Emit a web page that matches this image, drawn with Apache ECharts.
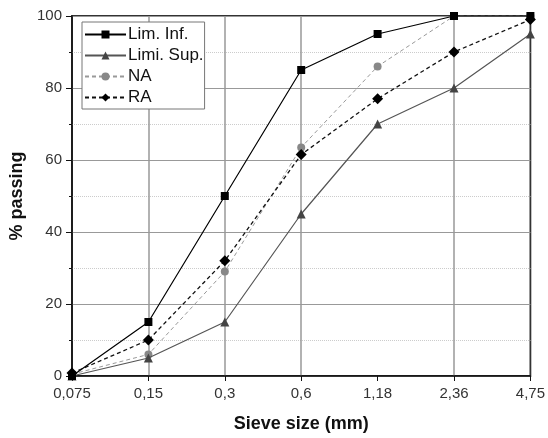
<!DOCTYPE html>
<html><head><meta charset="utf-8">
<script src="https://cdn.jsdelivr.net/npm/echarts@6/dist/echarts.min.js"></script>
<style>html,body{margin:0;padding:0;background:#fff}#c{width:548px;height:438px}</style>
</head><body><div id="c"></div>
<script>
const sieveSizes = ['0,075','0,15','0,3','0,6','1,18','2,36','4,75'];
const limInf = [0, 15, 50, 85, 95, 100, 100];
const limSup = [0, 5, 15, 45, 70, 80, 95];
const naData = [0.5, 6, 29, 63.5, 86, 100, 100];
const raData = [0.8, 10, 32, 61.5, 77, 90, 99];
const yTicks = [0, 20, 40, 60, 80, 100];

const chart = echarts.init(document.getElementById('c'), null, {renderer:'canvas'});
const font = 'Liberation Sans, Arial, sans-serif';
chart.setOption({
  animation: false,
  backgroundColor: '#fff',
  textStyle: {fontFamily: font},
  grid: {left: 72, right: 16, top: 16, bottom: 58, show: true, borderColor: '#333', borderWidth: 1.8, backgroundColor: 'transparent'},
  legend: {
    orient: 'vertical', left: 82, top: 22,
    backgroundColor: '#fff', borderColor: '#777', borderWidth: 1,
    padding: [4, 1, 3, 2], itemGap: 4, itemWidth: 41, itemHeight: 10,
    textStyle: {fontFamily: font, fontSize: 17, lineHeight: 17, color: '#111', padding: [0,0,0,-3]},
    data: ['Lim. Inf.', 'Limi. Sup.', 'NA', 'RA']
  },
  xAxis: {
    type: 'category', data: sieveSizes, boundaryGap: false,
    name: 'Sieve size (mm)', nameLocation: 'middle', nameGap: 39,
    nameTextStyle: {fontFamily: font, fontSize: 18, fontWeight: 'bold', color: '#111'},
    axisLine: {lineStyle: {color: '#111', width: 1.5}},
    axisTick: {show: true, inside: false, length: 5, lineStyle: {color: '#111'}},
    axisLabel: {fontFamily: font, fontSize: 15, color: '#333', margin: 10},
    splitLine: {show: true, interval: function(i){ return i===1||i===2||i===3||i===5; }, lineStyle: {color: '#999', width: 1.5}}
  },
  yAxis: {
    type: 'value', min: yTicks[0], max: yTicks[yTicks.length-1], interval: 20,
    name: '% passing', nameLocation: 'middle', nameGap: 33,
    nameTextStyle: {fontFamily: font, fontSize: 18, fontWeight: 'bold', color: '#111'},
    axisLine: {show: true, lineStyle: {color: '#111', width: 1.5}},
    axisTick: {show: true, length: 6, lineStyle: {color: '#111'}},
    minorTick: {show: true, splitNumber: 2, length: 3, lineStyle: {color: '#111'}},
    axisLabel: {fontFamily: font, fontSize: 15, color: '#333', margin: 10},
    splitLine: {show: true, lineStyle: {color: '#999', width: 1.2}},
    minorSplitLine: {show: true, lineStyle: {color: '#ccc', type: 'dotted', width: 1}}
  },
  series: [
    {name: 'Lim. Inf.', type: 'line', data: limInf, symbol: 'rect', symbolSize: 8,
     lineStyle: {color: '#000', width: 1.2}, itemStyle: {color: '#000'}, z: 4},
    {name: 'Limi. Sup.', type: 'line', data: limSup, symbol: 'triangle', symbolSize: 9,
     lineStyle: {color: '#555', width: 1.2}, itemStyle: {color: '#444'}, z: 3},
    {name: 'NA', type: 'line', data: naData, symbol: 'circle', symbolSize: 8,
     lineStyle: {color: '#999', width: 1, type: [4, 3]}, itemStyle: {color: '#888'}, z: 2},
    {name: 'RA', type: 'line', data: raData, symbol: 'diamond', symbolSize: 11,
     lineStyle: {color: '#111', width: 1.3, type: [4, 3]}, itemStyle: {color: '#000'}, z: 5}
  ]
});
</script></body></html>
